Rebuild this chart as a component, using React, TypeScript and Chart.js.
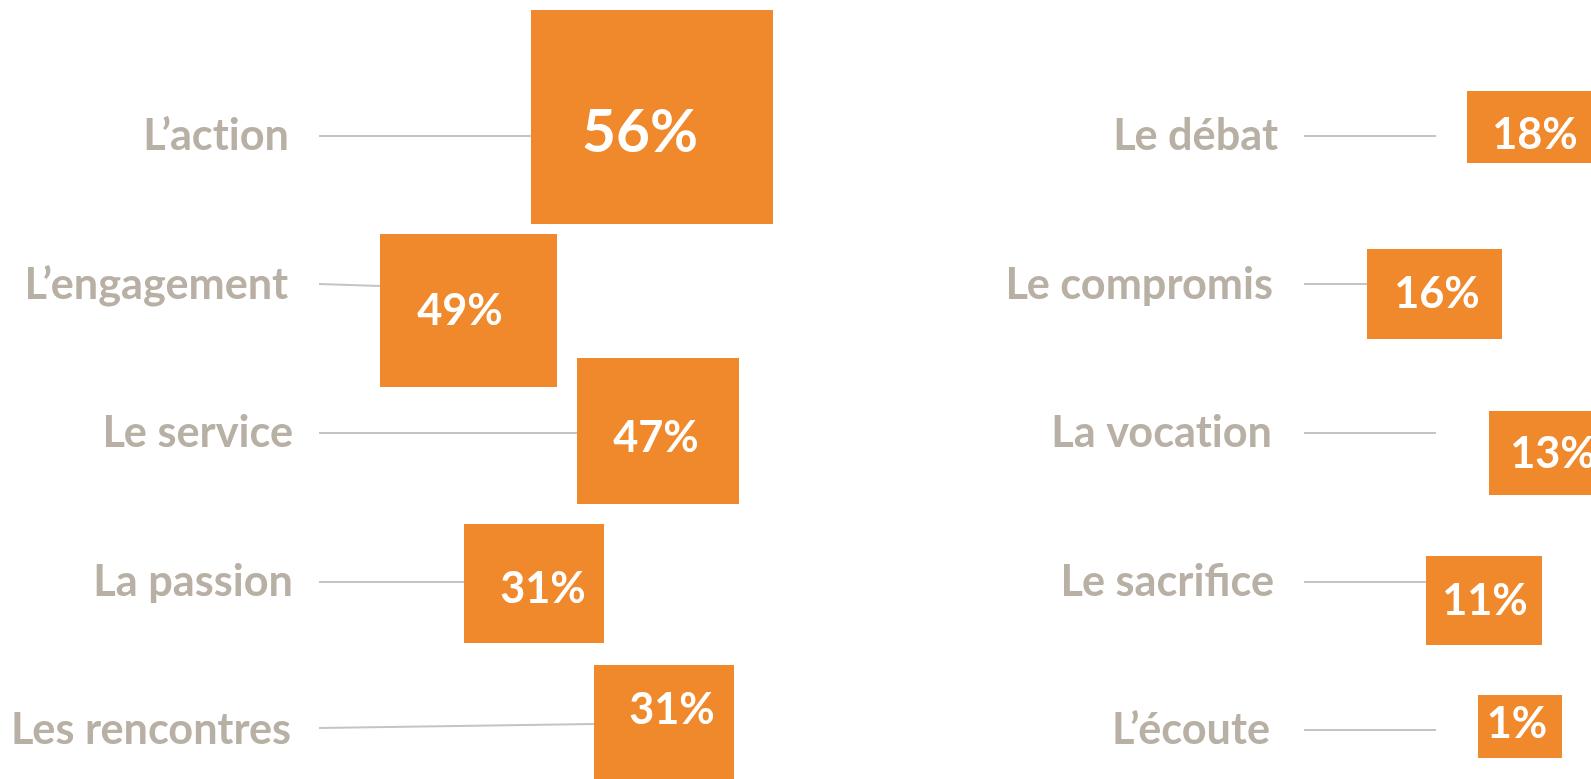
import React, { useEffect, useRef } from "react";
import { Chart, registerables } from "chart.js";

Chart.register(...registerables);

// ---- data ----
const categories = [
  "L’action",
  "L’engagement",
  "Le service",
  "La passion",
  "Les rencontres",
  "Le débat",
  "Le compromis",
  "La vocation",
  "Le sacrifice",
  "L’écoute",
];
const values = [56, 49, 47, 31, 31, 18, 16, 13, 11, 1];

// ---- layout (chart units on a 1591 x 779 plane) ----
const boxLeft = [531, 380, 577, 464, 594, 1467, 1367, 1489, 1426, 1478];
const boxRight = [773, 557, 739, 604, 734, 1600, 1502, 1600, 1542, 1562];
const boxTop = [10, 234, 358, 524, 665, 91, 249, 411, 556, 695];
const boxBottom = [224, 387, 504, 643, 800, 163, 339, 495, 645, 758];

const lineStartX = [319, 319, 319, 319, 319, 1304, 1304, 1304, 1304, 1304];
const lineStartY = [136, 284, 433, 582, 728, 136, 284, 433, 582, 730];
const lineEndX = [531, 380, 577, 464, 594, 1436, 1367, 1436, 1426, 1436];
const lineEndY = [136, 286, 433, 582, 724, 136, 284, 433, 582, 730];

const labelRightX = [289, 288, 293, 293, 291, 1278, 1273, 1272, 1274, 1270];
const labelCapMidY = [134, 283, 431, 580, 728, 134, 283, 431, 580, 728];

const pctCenterX = [640, 460, 656, 543, 672, 1535, 1437, 1553, 1485, 1517];
const pctCapMidY = [131, 309, 436, 587, 708, 133, 292, 452, 599, 722];
const pctCapHeight = [42, 31, 31, 31, 31, 31, 31, 31, 31, 31];

const ORANGE = "#EF892B";
const GREY_TEXT = "#B9B0A5";
const LINE_GREY = "#C4C4C4";
const FONT = "Lato";
const CAP_RATIO = 0.7165;
const LABEL_CAP = 31;

// break the "ti" ligature of Lato when drawing (invisible joiner-breaker)
const noLig = (s: string) => s.replace(/ti/g, "t\u200Ci");

export default function App() {
  const canvasRef = useRef<HTMLCanvasElement | null>(null);

  useEffect(() => {
    let chart: Chart | null = null;
    let cancelled = false;

    const build = () => {
      if (cancelled || !canvasRef.current) return;

      const boxSets = values.map((v, i) => ({
        type: "line" as const,
        label: `box-${i}`,
        data: [
          { x: boxLeft[i], y: boxTop[i] },
          { x: boxRight[i], y: boxTop[i] },
        ],
        borderWidth: 0,
        borderColor: "rgba(0,0,0,0)",
        backgroundColor: ORANGE,
        pointRadius: 0,
        fill: { value: boxBottom[i] },
        order: 2,
      }));

      const lineSets = categories.map((c, i) => ({
        type: "line" as const,
        label: `line-${c}`,
        data: [
          { x: lineStartX[i], y: lineStartY[i] },
          { x: lineEndX[i], y: lineEndY[i] },
        ],
        borderWidth: 2,
        borderColor: LINE_GREY,
        backgroundColor: LINE_GREY,
        pointRadius: 0,
        fill: false,
        order: 1,
      }));

      const textPlugin = {
        id: "textPlugin",
        afterDatasetsDraw(ch: Chart) {
          const ctx = ch.ctx;
          const xs = ch.scales.x;
          const ys = ch.scales.y;
          ctx.save();
          // category labels
          const lSize = LABEL_CAP / CAP_RATIO;
          ctx.font = `bold ${lSize}px ${FONT}`;
          ctx.fillStyle = GREY_TEXT;
          ctx.textAlign = "right";
          ctx.textBaseline = "alphabetic";
          categories.forEach((c, i) => {
            const x = xs.getPixelForValue(labelRightX[i]);
            const y = ys.getPixelForValue(labelCapMidY[i]) + LABEL_CAP / 2;
            ctx.fillText(noLig(c), x, y);
          });
          // percentages
          ctx.fillStyle = "#FFFFFF";
          ctx.textAlign = "center";
          values.forEach((v, i) => {
            const cap = pctCapHeight[i];
            ctx.font = `bold ${cap / CAP_RATIO}px ${FONT}`;
            const x = xs.getPixelForValue(pctCenterX[i]);
            const y = ys.getPixelForValue(pctCapMidY[i]) + cap / 2;
            ctx.fillText(`${v}%`, x, y);
          });
          ctx.restore();
        },
      };

      chart = new Chart(canvasRef.current, {
        type: "line",
        data: { datasets: [...boxSets, ...lineSets] as any },
        options: {
          animation: false,
          responsive: false,
          maintainAspectRatio: false,
          layout: { padding: 0 },
          plugins: {
            legend: { display: false },
            tooltip: { enabled: false },
            title: { display: false },
          },
          elements: { line: { tension: 0 } },
          scales: {
            x: { type: "linear", min: 0, max: 1591, display: false },
            y: { type: "linear", min: 0, max: 779, reverse: true, display: false },
          },
        },
        plugins: [textPlugin],
      });
    };

    const fonts = (document as any).fonts;
    if (fonts && fonts.load) {
      Promise.all([
        fonts.load(`bold 43px ${FONT}`),
        fonts.load(`bold 58px ${FONT}`),
      ])
        .catch(() => undefined)
        .then(build);
    } else {
      build();
    }

    return () => {
      cancelled = true;
      if (chart) chart.destroy();
    };
  }, []);

  return (
    <div
      style={{
        position: "fixed",
        left: 0,
        top: 0,
        width: 1591,
        height: 779,
        background: "#FFFFFF",
      }}
    >
      <canvas ref={canvasRef} width={1591} height={779} style={{ display: "block" }} />
    </div>
  );
}
